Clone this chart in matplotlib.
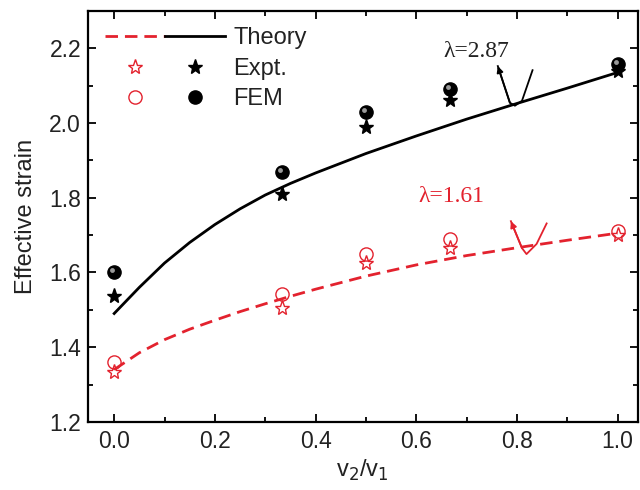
"""Effective strain vs velocity ratio: theory curves, experiment and FEM."""
import matplotlib.pyplot as plt
import numpy as np
from matplotlib.legend_handler import HandlerTuple
from matplotlib.ticker import MultipleLocator
import matplotlib.transforms as mtransforms

plt.rcParams['font.family'] = ['Liberation Sans', 'DejaVu Sans']

# measured / simulated points
ratio = [0.0, 0.333, 0.5, 0.667, 1.0]
expt_hi = [1.538, 1.81, 1.99, 2.06, 2.14]     # lambda = 2.87
fem_hi = [1.60, 1.868, 2.03, 2.09, 2.157]
expt_lo = [1.333, 1.506, 1.625, 1.665, 1.70]  # lambda = 1.61
fem_lo = [1.36, 1.543, 1.65, 1.69, 1.71]

# theory curves
theory_x = [0.0, 0.05, 0.1, 0.15, 0.2, 0.25, 0.3, 0.35, 0.4,
            0.5, 0.6, 0.7, 0.8, 0.9, 1.0]
theory_hi = [1.49, 1.56, 1.625, 1.68, 1.728, 1.77, 1.807, 1.838, 1.866,
             1.918, 1.965, 2.01, 2.052, 2.093, 2.135]
theory_lo = [1.34, 1.385, 1.42, 1.448, 1.472, 1.495, 1.516, 1.536, 1.555,
             1.59, 1.62, 1.645, 1.666, 1.686, 1.705]

# hand drawn pointer strokes
hook_hi_x = [0.762, 0.786, 0.796, 0.810, 0.831]
hook_hi_y = [2.152, 2.054, 2.046, 2.059, 2.141]
hook_lo_x = [0.788, 0.810, 0.819, 0.839, 0.859]
hook_lo_y = [1.737, 1.665, 1.649, 1.676, 1.731]

RED = '#e3222e'
FS = 17

fig = plt.figure(figsize=(6.4, 4.9), dpi=100)
ax = fig.add_axes([0.1375, 0.139, 0.859, 0.839])

l_hi, = ax.plot(theory_x, theory_hi, color='black', lw=2.0)
l_lo, = ax.plot(theory_x, theory_lo, color=RED, lw=2.0, ls=(0, (4.5, 2.5)))

s_hi, = ax.plot(ratio, expt_hi, ls='none', marker='*', ms=11, color='black')
s_lo, = ax.plot(ratio, expt_lo, ls='none', marker='*', ms=11, mfc='none',
                mec=RED, mew=1.0)
c_lo, = ax.plot(ratio, fem_lo, ls='none', marker='o', ms=9.5, mfc='none',
                mec=RED, mew=1.0)
c_hi, = ax.plot(ratio, fem_hi, ls='none', marker='o', ms=9.5, color='black')
# little highlight so the FEM balls look shaded
shine = mtransforms.offset_copy(ax.transData, fig=fig, x=-1.5, y=1.5,
                                units='points')
ax.plot(ratio, fem_hi, ls='none', marker='o', ms=3.5, color='#9a9a9a',
        mec='none', transform=shine)

# pointers + labels
ax.plot(hook_hi_x, hook_hi_y, color='black', lw=1.3)
ax.annotate('', xy=(hook_hi_x[0], hook_hi_y[0]),
            xytext=(hook_hi_x[1], hook_hi_y[1]),
            arrowprops=dict(arrowstyle='-|>', color='black', lw=1.3,
                            mutation_scale=9, shrinkA=0, shrinkB=0))
ax.text(0.653, 2.19, 'λ=2.87', family=['Liberation Serif', 'DejaVu Serif'],
        fontsize=FS, va='center', ha='left', color='#222222')
ax.plot(hook_lo_x, hook_lo_y, color=RED, lw=1.3)
ax.annotate('', xy=(hook_lo_x[0], hook_lo_y[0]),
            xytext=(hook_lo_x[1], hook_lo_y[1]),
            arrowprops=dict(arrowstyle='-|>', color=RED, lw=1.3,
                            mutation_scale=9, shrinkA=0, shrinkB=0))
ax.text(0.605, 1.804, 'λ=1.61', family=['Liberation Serif', 'DejaVu Serif'],
        fontsize=FS, va='center', ha='left', color=RED)

ax.set_xlim(-0.052, 1.04)
ax.set_ylim(1.2, 2.3)
ax.xaxis.set_major_locator(MultipleLocator(0.2))
ax.xaxis.set_minor_locator(MultipleLocator(0.1))
ax.yaxis.set_major_locator(MultipleLocator(0.2))
ax.yaxis.set_minor_locator(MultipleLocator(0.1))
ax.xaxis.set_major_formatter(lambda v, p: f'{v:.1f}')
ax.yaxis.set_major_formatter(lambda v, p: f'{v:.1f}')
ax.tick_params(which='both', direction='in', top=True, right=True,
               labelsize=16.5, width=1.3, labelcolor='#222222')
ax.tick_params(which='major', length=6)
ax.tick_params(which='minor', length=3.5)
ax.tick_params(axis='x', pad=6)
ax.tick_params(axis='y', pad=5)
for sp in ax.spines.values():
    sp.set_linewidth(1.6)

ax.set_xlabel('v$_2$/v$_1$', fontsize=FS, labelpad=3, color='#222222')
ax.set_ylabel('Effective strain', fontsize=FS, labelpad=9, color='#222222')

leg = ax.legend([(l_lo, l_hi), (s_lo, s_hi), (c_lo, c_hi)],
                ['Theory', 'Expt.', 'FEM'],
                handler_map={tuple: HandlerTuple(ndivide=None, pad=0)},
                loc='upper left', frameon=False, fontsize=FS,
                handlelength=5.1, handletextpad=0.35,
                labelspacing=0.36, borderaxespad=0.3)
for t in leg.get_texts():
    t.set_color('#222222')

fig.savefig('out.png', dpi=100)
plt.close()
